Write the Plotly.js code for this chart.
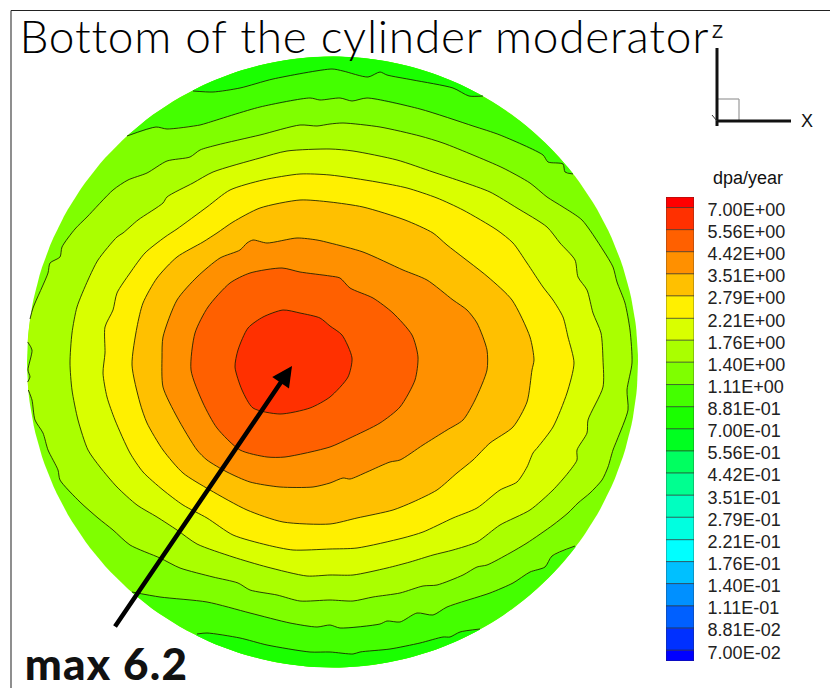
<!DOCTYPE html>
<html><head><meta charset="utf-8">
<script src="https://cdn.plot.ly/plotly-3.0.1.min.js"></script>
<style>html,body{margin:0;padding:0;background:#fff}#chart{width:830px;height:688px}
.annotation[data-index="0"] text{letter-spacing:.75px}
.annotation[data-index="1"] text{letter-spacing:1.2px}</style>
</head><body><div id="chart"></div>
<script>
// Legend: contour levels (dpa/year), labels and band colours (top to bottom)
const levels = [7.00,5.56,4.42,3.51,2.79,2.21,1.76,1.40,1.11,0.881,0.700,0.556,0.442,0.351,0.279,0.221,0.176,0.140,0.111,0.0881,0.0700];
const levelLabels = ['7.00E+00','5.56E+00','4.42E+00','3.51E+00','2.79E+00','2.21E+00','1.76E+00','1.40E+00','1.11E+00','8.81E-01','7.00E-01','5.56E-01','4.42E-01','3.51E-01','2.79E-01','2.21E-01','1.76E-01','1.40E-01','1.11E-01','8.81E-02','7.00E-02'];
const bandColors = ['#ff0000','#ff3000','#ff6000','#ff9000','#ffc000','#fff000','#d9ff00','#aaff00','#7fff00','#44ff00','#1aff00','#00ff20','#00ff60','#00ff90','#00ffc0','#00ffe0','#00ffff','#00c0ff','#0090ff','#0060ff','#0030ff','#0000ff'];
const legendEnds = [7.81,0.0626];

// Moderator face: rim and contour lines (drawing units, y downward)
const rim = {cx:332.5, cy:362, r:305.5};
const topLine1 = [[193,91],[213,92],[240,88],[273,79],[332,69],[343,71],[368,77],[380,72],[387,75],[413,80],[453,88],[469,96],[483,96]];
const bottomLine1 = [[197,634],[207,633],[240,638],[267,645],[310,652],[330,652],[353,654],[360,652],[390,649],[420,643],[443,637],[450,637],[460,632],[480,629]];
const topLine2 = [[127,136],[156,127],[167,129],[200,125],[207,123],[260,107],[310,98],[320,100],[340,98],[352,101],[367,98],[420,109],[473,126],[500,135],[543,155],[548,162],[563,164],[565,172],[573,174]];
const bottomLine2 = [[132,592],[160,597],[207,602],[250,613],[290,623],[317,627],[330,625],[340,628],[380,624],[387,621],[400,622],[417,613],[433,615],[447,607],[490,593],[513,583],[530,572],[545,567],[552,556],[575,546]];
const contour3 = [[30,319],[33,308],[48,273],[50,263],[60,257],[62,247],[75,229],[87,217],[113,190],[128,180],[147,173],[167,161],[190,157],[200,150],[217,145],[260,135],[300,125],[317,126],[330,124],[343,123],[380,127],[420,136],[443,143],[473,155],[503,168],[530,183],[547,197],[563,207],[582,220],[603,250],[613,267],[617,282],[625,303],[630,330],[632,363],[627,390],[628,410],[617,440],[613,450],[608,467],[602,480],[590,493],[578,503],[568,513],[553,525],[527,543],[510,553],[487,565],[477,567],[463,575],[437,585],[423,586],[400,593],[373,597],[353,601],[330,600],[300,601],[277,595],[250,590],[238,583],[213,577],[180,568],[160,558],[130,545],[113,530],[98,518],[80,502],[60,480],[58,470],[48,450],[43,433],[35,420],[32,400],[28.3,390]];
const lens3 = [[27.6,382],[30,377],[28,370],[32,350],[27.7,342]];
const contour4 = [[117,237],[98,260],[88,280],[77,307],[72,333],[70,363],[72,390],[78,420],[88,450],[100,467],[117,487],[137,505],[157,517],[177,530],[197,544],[233,557],[267,567],[307,576],[330,575],[353,575],[387,568],[410,562],[433,555],[453,550],[477,542],[500,525],[530,510],[553,490],[568,473],[577,460],[577,450],[587,433],[588,420],[603,387],[603,360],[601,333],[593,313],[587,290],[578,277],[575,260],[560,243],[547,227],[517,208],[490,192],[463,182],[433,172],[397,160],[353,151],[330,149],[287,151],[260,158],[213,172],[193,183],[167,197],[163,203],[138,220],[123,233]];
const contour5 = [[177,229],[165,237],[145,253],[130,273],[117,293],[113,310],[105,327],[105,353],[103,373],[107,397],[115,420],[130,453],[143,472],[163,490],[183,505],[207,518],[233,535],[267,545],[293,550],[330,549],[357,548],[403,538],[423,532],[453,518],[477,508],[500,490],[517,482],[527,467],[533,453],[538,447],[553,427],[567,393],[574,363],[568,337],[563,317],[553,300],[543,287],[527,263],[513,243],[497,230],[463,210],[437,198],[407,188],[377,182],[330,175],[300,174],[263,180],[230,190],[207,207]];
const contour6 = [[233,222],[217,233],[203,242],[177,257],[157,278],[143,303],[137,327],[132,365],[140,403],[147,423],[163,450],[183,473],[210,490],[247,510],[283,522],[330,524],[357,518],[393,510],[413,502],[437,490],[457,473],[473,460],[490,443],[513,427],[527,402],[532,370],[534,360],[530,337],[512,300],[488,277],[447,245],[433,233],[405,220],[363,207],[330,202],[300,200],[260,208]];
const contour7 = [[253,240],[247,243],[240,250],[220,258],[197,277],[177,300],[163,337],[162,357],[163,387],[177,417],[197,450],[207,460],[227,472],[250,482],[280,487],[313,487],[330,483],[343,478],[350,479],[367,472],[390,462],[400,460],[423,445],[447,430],[463,420],[475,400],[487,370],[487,350],[477,323],[467,310],[453,300],[427,280],[403,270],[363,252],[330,243],[317,240],[297,238],[267,243]];
const contour8 = [[250,273],[230,283],[208,307],[195,333],[191,370],[203,403],[217,428],[240,450],[267,457],[285,457],[330,447],[350,438],[380,423],[400,407],[415,380],[418,357],[412,335],[393,313],[373,298],[350,288],[340,278],[330,276],[300,272],[282,268]];
const contour9 = [[263,317],[248,328],[238,350],[235,367],[242,390],[253,408],[280,414],[310,408],[330,397],[348,377],[352,358],[342,335],[330,326],[320,318],[300,313],[283,310]];

const lineColor = 'rgba(25,30,0,0.85)';
const smooth = 0.7;
function rimArc(from, to) {
  const a0 = Math.atan2(from[1]-rim.cy, from[0]-rim.cx);
  const a1 = Math.atan2(to[1]-rim.cy, to[0]-rim.cx);
  let d = a1-a0; while (d>Math.PI) d-=2*Math.PI; while (d<-Math.PI) d+=2*Math.PI;
  const pts = [];
  for (let i=0;i<=60;i++) { const a=a0+d*i/60; pts.push([rim.cx+rim.r*Math.cos(a), rim.cy+rim.r*Math.sin(a)]); }
  return pts;
}
function fillTrace(pts, color, curved) {
  return {type:'scatter', mode:'lines', x:pts.map(p=>p[0]), y:pts.map(p=>p[1]), fill:'toself', fillcolor:color,
    line:{width:0, color:color, shape:curved?'spline':'linear', smoothing:smooth}, hoverinfo:'skip', showlegend:false};
}
function lineTrace(pts, closed) {
  const q = closed ? pts.concat([pts[0]]) : pts;
  return {type:'scatter', mode:'lines', x:q.map(p=>p[0]), y:q.map(p=>p[1]), line:{width:1, color:lineColor, shape:'spline', smoothing:smooth}, hoverinfo:'skip', showlegend:false};
}
function cap(line, color) { return fillTrace(line.concat(rimArc(line[line.length-1], line[0])), color, false); }

const disc = rimArc([rim.cx-rim.r,rim.cy],[rim.cx,rim.cy-rim.r]).concat(rimArc([rim.cx,rim.cy-rim.r],[rim.cx+rim.r,rim.cy]),rimArc([rim.cx+rim.r,rim.cy],[rim.cx,rim.cy+rim.r]),rimArc([rim.cx,rim.cy+rim.r],[rim.cx-rim.r,rim.cy]));
const traces = [
  fillTrace(disc, bandColors[8], false),
  cap(topLine2, bandColors[9]), cap(bottomLine2, bandColors[9]),
  cap(topLine1, bandColors[10]), cap(bottomLine1, bandColors[10]),
  lineTrace(topLine2), lineTrace(bottomLine2), lineTrace(topLine1), lineTrace(bottomLine1),
  fillTrace(contour3.concat(lens3), bandColors[7], false), lineTrace(contour3), lineTrace(lens3)
];
[[contour4,6],[contour5,5],[contour6,4],[contour7,3],[contour8,2],[contour9,1]].forEach(([c,k])=>{
  traces.push(fillTrace(c.concat([c[0]]), bandColors[k], true));
  traces.push(lineTrace(c,true));
});

// Legend bars on their own log axis
const edges = [legendEnds[0]].concat(levels,[legendEnds[1]]);
const bottoms = edges.slice(1);
traces.push({type:'bar', xaxis:'x2', yaxis:'y2', x:bottoms.map(()=>0), y:bottoms.map((b,i)=>edges[i]-b), base:bottoms, width:1,
  marker:{color:bandColors, line:{color:'rgba(40,40,40,0.55)', width:1}}, hoverinfo:'skip', showlegend:false});

const W=830, H=688;
const segment=(x0,y0,x1,y1,color,width)=>({type:'line',xref:'x',yref:'y',x0,y0,x1,y1,line:{color,width},layer:'above'});
const text=(x,y,t,size,family,extra)=>Object.assign({x,y,xref:'x',yref:'y',text:t,showarrow:false,font:{size,family,color:'#111'}},extra||{});
const layout = {
  width:W, height:H, margin:{l:0,r:0,t:0,b:0}, paper_bgcolor:'#fff', plot_bgcolor:'rgba(0,0,0,0)', showlegend:false, barmode:'overlay',
  xaxis:{range:[0,W], domain:[0,1], visible:false, fixedrange:true},
  yaxis:{range:[H,0], domain:[0,1], visible:false, fixedrange:true},
  xaxis2:{domain:[666/W,694/W], range:[-0.5,0.5], visible:false, anchor:'y2', fixedrange:true},
  yaxis2:{type:'log', domain:[1-661/H,1-197/H], range:[Math.log10(legendEnds[1]),Math.log10(legendEnds[0])], anchor:'x2', side:'right',
    showgrid:false, zeroline:false, showline:false, tickmode:'array', tickvals:levels, ticktext:levelLabels, ticks:'outside', ticklen:9, tickcolor:'rgba(0,0,0,0)', ticklabelshift:2,
    tickfont:{family:'"Liberation Sans", Arial, sans-serif', size:18, color:'#222'}, fixedrange:true},
  shapes:[
    segment(11,688,11,10.5,'#444',1.2), segment(11,10.5,830,10.5,'#222',1.2),
    segment(717,99,739,99,'#999',1.2), segment(739,99,739,121,'#999',1.2),
    segment(717,48,717,126,'#111',3), segment(716,121,791,121,'#111',3),
    segment(712,115,717,121,'#333',1)
  ],
  annotations:[
    {x:30,y:35,xref:'x',yref:'y',text:'Bottom of the cylinder moderator',showarrow:false,xanchor:'left',yanchor:'middle',font:{size:46,family:'Lato, sans-serif',color:'#000',weight:300}},
    {x:27,y:663,xref:'x',yref:'y',text:'max 6.2',showarrow:false,xanchor:'left',yanchor:'middle',font:{size:44,family:'Lato, sans-serif',color:'#111',weight:900}},
    text(748,178,'dpa/year',18,'"Liberation Sans", Arial, sans-serif',{xanchor:'center',yanchor:'middle'}),
    text(807,121,'X',18,'"Liberation Sans", Arial, sans-serif',{xanchor:'center',yanchor:'middle'}),
    text(717,32,'Z',18,'"Liberation Sans", Arial, sans-serif',{xanchor:'center',yanchor:'middle'}),
    {x:292,y:366,xref:'x',yref:'y',axref:'x',ayref:'y',ax:114,ay:628,text:'',showarrow:true,arrowhead:2,arrowsize:0.9,arrowwidth:4.5,arrowcolor:'#000'}
  ]
};
Plotly.newPlot('chart', traces, layout, {displayModeBar:false, staticPlot:true});
</script></body></html>
